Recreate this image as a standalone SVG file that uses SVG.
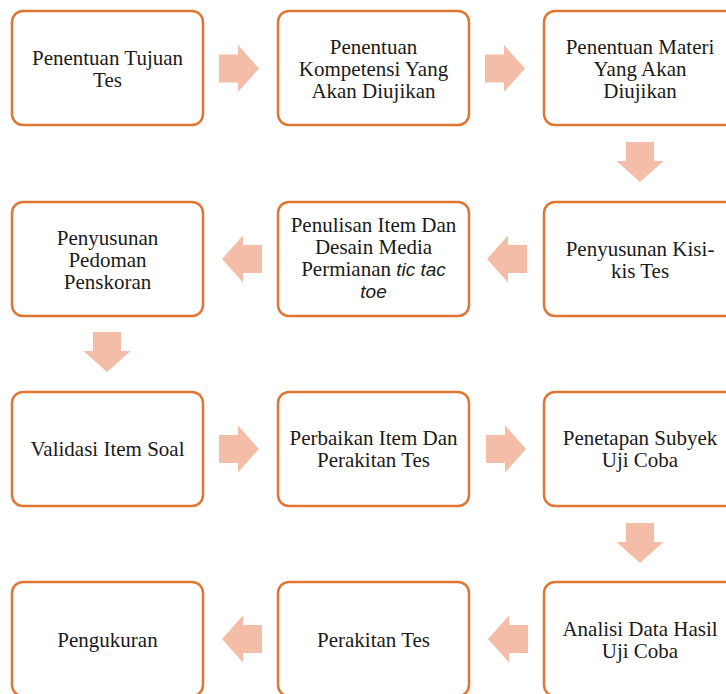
<svg xmlns="http://www.w3.org/2000/svg" width="726" height="694" viewBox="0 0 726 694">
<defs>
<style>
.box{fill:#fff;stroke:#E07632;stroke-width:2.5}
.t{font-family:"Liberation Serif","Times New Roman",serif;font-size:21px;fill:#1a1a1a;text-anchor:middle}
.i{font-family:"Liberation Sans",Arial,sans-serif;font-style:italic;font-size:19px}
.arr{fill:#F4BDA8}
</style>
<path id="ar" d="M-20 -14 H-1 V-23.5 L20 0 L-1 23.5 V14 H-20 Z"/>
</defs>
<rect width="726" height="694" fill="#fff"/>
<g id="connectors" class="arr">
<use href="#ar" transform="translate(239,68.5)"/>
<use href="#ar" transform="translate(505,68.5)"/>
<use href="#ar" transform="translate(640,162) rotate(90)"/>
<use href="#ar" transform="translate(507,259) rotate(180)"/>
<use href="#ar" transform="translate(242,259) rotate(180)"/>
<use href="#ar" transform="translate(107,352) rotate(90)"/>
<use href="#ar" transform="translate(239,449)"/>
<use href="#ar" transform="translate(506,449)"/>
<use href="#ar" transform="translate(640,543) rotate(90)"/>
<use href="#ar" transform="translate(508,639) rotate(180)"/>
<use href="#ar" transform="translate(242,639) rotate(180)"/>
</g>
<g id="n1"><rect class="box" x="12" y="11" width="191" height="114" rx="11"/>
<text class="t" x="107.5" y="65">Penentuan Tujuan</text><text class="t" x="107.5" y="87">Tes</text></g>
<g id="n2"><rect class="box" x="278" y="11" width="191" height="114" rx="11"/>
<text class="t" x="373.5" y="54">Penentuan</text><text class="t" x="373.5" y="76">Kompetensi Yang</text><text class="t" x="373.5" y="98">Akan Diujikan</text></g>
<g id="n3"><rect class="box" x="544" y="11" width="192" height="114" rx="11"/>
<text class="t" x="640" y="54">Penentuan Materi</text><text class="t" x="640" y="76">Yang  Akan</text><text class="t" x="640" y="98">Diujikan</text></g>
<g id="n4"><rect class="box" x="544" y="202" width="192" height="114" rx="11"/>
<text class="t" x="640" y="256">Penyusunan Kisi-</text><text class="t" x="640" y="278">kis Tes</text></g>
<g id="n5"><rect class="box" x="278" y="202" width="191" height="114" rx="11"/>
<text class="t" x="373.5" y="232">Penulisan Item Dan</text><text class="t" x="373.5" y="254">Desain Media</text>
<text class="t" x="373.5" y="276">Permianan <tspan class="i">tic tac</tspan></text><text class="t i" x="373.5" y="298">toe</text></g>
<g id="n6"><rect class="box" x="12" y="202" width="191" height="114" rx="11"/>
<text class="t" x="107.5" y="245">Penyusunan</text><text class="t" x="107.5" y="267">Pedoman</text><text class="t" x="107.5" y="289">Penskoran</text></g>
<g id="n7"><rect class="box" x="12" y="392" width="191" height="114" rx="11"/>
<text class="t" x="107.5" y="456">Validasi Item Soal</text></g>
<g id="n8"><rect class="box" x="278" y="392" width="191" height="114" rx="11"/>
<text class="t" x="373.5" y="445">Perbaikan Item Dan</text><text class="t" x="373.5" y="467">Perakitan Tes</text></g>
<g id="n9"><rect class="box" x="544" y="392" width="192" height="114" rx="11"/>
<text class="t" x="640" y="445">Penetapan Subyek</text><text class="t" x="640" y="467">Uji Coba</text></g>
<g id="n10"><rect class="box" x="544" y="582" width="192" height="114" rx="11"/>
<text class="t" x="640" y="636">Analisi Data Hasil</text><text class="t" x="640" y="658">Uji Coba</text></g>
<g id="n11"><rect class="box" x="278" y="582" width="191" height="114" rx="11"/>
<text class="t" x="373.5" y="647">Perakitan Tes</text></g>
<g id="n12"><rect class="box" x="12" y="582" width="191" height="114" rx="11"/>
<text class="t" x="107.5" y="647">Pengukuran</text></g>
</svg>
